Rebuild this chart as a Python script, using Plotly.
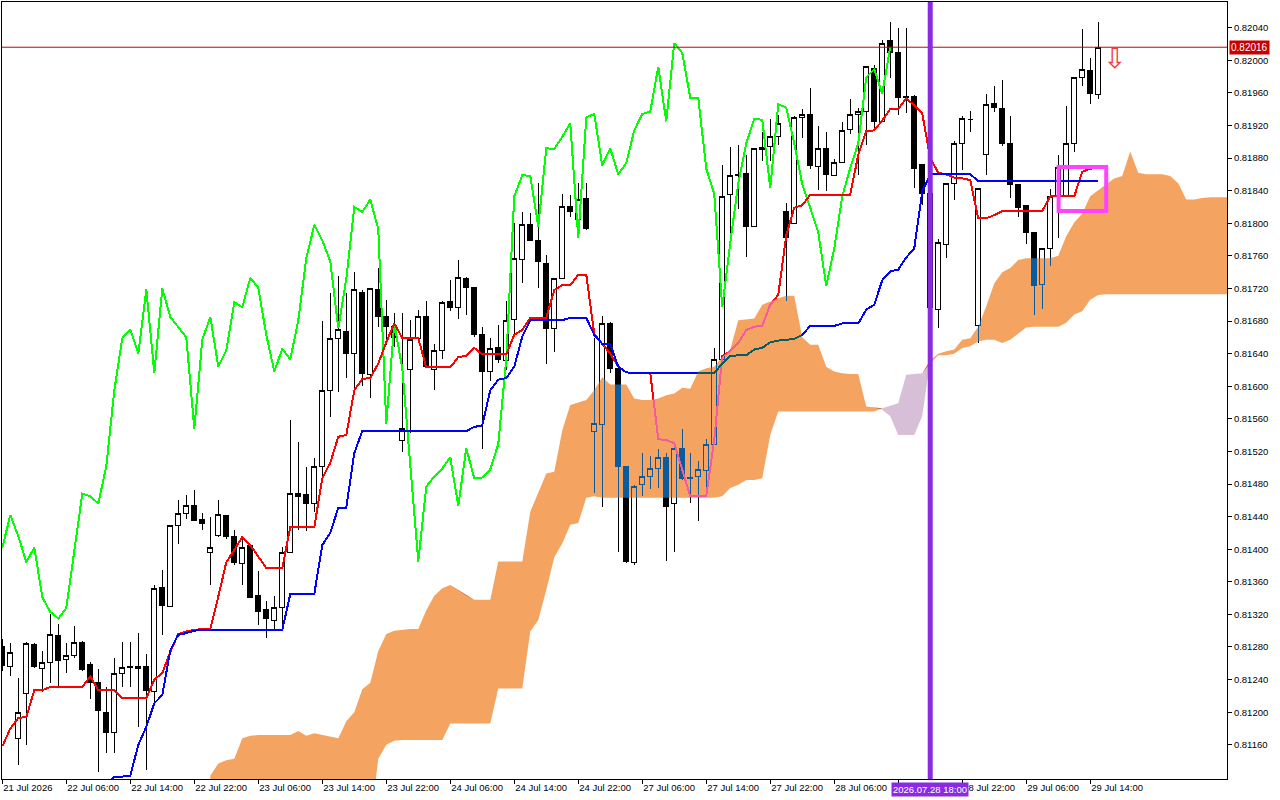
import plotly.graph_objects as go

# H1 bars, index 0 = 21 Jul 22:00 ... index 137 = 29 Jul 15:00
opens = [
    0.81281, 0.81256, 0.81168, 0.81223, 0.81283, 0.81253, 0.81261, 0.81294, 0.81265, 0.81270,
    0.81286, 0.81259, 0.81237, 0.81200, 0.81175, 0.81248, 0.81255, 0.81253, 0.81256, 0.81225,
    0.81353, 0.81330, 0.81429, 0.81444, 0.81454, 0.81437, 0.81396, 0.81417, 0.81441, 0.81416,
    0.81382, 0.81404, 0.81343, 0.81326, 0.81313, 0.81329, 0.81396, 0.81468, 0.81467, 0.81456,
    0.81501, 0.81595, 0.81659, 0.81667, 0.81640, 0.81715, 0.81615, 0.81719, 0.81685, 0.81673,
    0.81534, 0.81620, 0.81659, 0.81685, 0.81620, 0.81644, 0.81704, 0.81697, 0.81732, 0.81721,
    0.81664, 0.81618, 0.81647, 0.81631, 0.81682, 0.81755, 0.81798, 0.81779, 0.81751, 0.81671,
    0.81732, 0.81820, 0.81804, 0.81830, 0.81544, 0.81553, 0.81677, 0.81622, 0.81501, 0.81384,
    0.81479, 0.81489, 0.81499, 0.81513, 0.81456, 0.81524, 0.81487, 0.81489, 0.81497, 0.81529,
    0.81633, 0.81835, 0.81860, 0.81861, 0.81796, 0.81893, 0.81894, 0.81907, 0.81814, 0.81800,
    0.81930, 0.81934, 0.81870, 0.81892, 0.81859, 0.81875, 0.81915, 0.81934, 0.81937, 0.81990,
    0.81925, 0.82024, 0.82010, 0.81956, 0.81956, 0.81872, 0.81836, 0.81694, 0.81774, 0.81849,
    0.81898, 0.81927, 0.81675, 0.81884, 0.81947, 0.81941, 0.81898, 0.81848, 0.81822, 0.81789,
    0.81725, 0.81769, 0.81833, 0.81833, 0.81898, 0.81979, 0.81987, 0.81958,
]
highs = [
    0.81290, 0.81285, 0.81242, 0.81286, 0.81285, 0.81275, 0.81321, 0.81308, 0.81285, 0.81306,
    0.81287, 0.81262, 0.81253, 0.81231, 0.81266, 0.81286, 0.81286, 0.81297, 0.81271, 0.81356,
    0.81375, 0.81429, 0.81460, 0.81467, 0.81473, 0.81445, 0.81440, 0.81460, 0.81441, 0.81424,
    0.81415, 0.81405, 0.81373, 0.81336, 0.81342, 0.81403, 0.81559, 0.81531, 0.81501, 0.81512,
    0.81680, 0.81714, 0.81735, 0.81714, 0.81740, 0.81718, 0.81720, 0.81745, 0.81706, 0.81690,
    0.81690, 0.81681, 0.81693, 0.81704, 0.81652, 0.81705, 0.81730, 0.81755, 0.81734, 0.81722,
    0.81673, 0.81659, 0.81675, 0.81705, 0.81800, 0.81814, 0.81812, 0.81850, 0.81761, 0.81732,
    0.81836, 0.81835, 0.81849, 0.81849, 0.81659, 0.81686, 0.81679, 0.81622, 0.81501, 0.81479,
    0.81518, 0.81514, 0.81523, 0.81518, 0.81530, 0.81547, 0.81518, 0.81508, 0.81535, 0.81647,
    0.81871, 0.81893, 0.81896, 0.81884, 0.81892, 0.81912, 0.81928, 0.81933, 0.81825, 0.81932,
    0.81940, 0.81966, 0.81919, 0.81912, 0.81879, 0.81924, 0.81953, 0.81941, 0.81992, 0.81994,
    0.82025, 0.82047, 0.82039, 0.82040, 0.81957, 0.81872, 0.81840, 0.81781, 0.81849, 0.81901,
    0.81931, 0.81938, 0.81843, 0.81958, 0.81968, 0.81976, 0.81931, 0.81848, 0.81823, 0.81789,
    0.81770, 0.81842, 0.81884, 0.81944, 0.81979, 0.82038, 0.82003, 0.82047,
]
lows = [
    0.81250, 0.81244, 0.81135, 0.81160, 0.81254, 0.81225, 0.81236, 0.81231, 0.81248, 0.81267,
    0.81251, 0.81216, 0.81127, 0.81150, 0.81150, 0.81231, 0.81231, 0.81182, 0.81129, 0.81213,
    0.81295, 0.81330, 0.81406, 0.81437, 0.81434, 0.81423, 0.81356, 0.81415, 0.81412, 0.81381,
    0.81356, 0.81340, 0.81307, 0.81291, 0.81301, 0.81301, 0.81395, 0.81424, 0.81422, 0.81446,
    0.81487, 0.81562, 0.81593, 0.81610, 0.81595, 0.81600, 0.81586, 0.81673, 0.81650, 0.81648,
    0.81519, 0.81543, 0.81659, 0.81624, 0.81595, 0.81633, 0.81692, 0.81682, 0.81687, 0.81661,
    0.81523, 0.81607, 0.81628, 0.81620, 0.81663, 0.81727, 0.81778, 0.81720, 0.81627, 0.81642,
    0.81732, 0.81808, 0.81804, 0.81792, 0.81469, 0.81452, 0.81616, 0.81397, 0.81383, 0.81381,
    0.81465, 0.81474, 0.81475, 0.81385, 0.81397, 0.81485, 0.81457, 0.81434, 0.81473, 0.81528,
    0.81632, 0.81786, 0.81818, 0.81759, 0.81796, 0.81876, 0.81876, 0.81896, 0.81704, 0.81800,
    0.81904, 0.81867, 0.81841, 0.81840, 0.81858, 0.81875, 0.81909, 0.81859, 0.81896, 0.81917,
    0.81925, 0.81978, 0.81933, 0.81935, 0.81843, 0.81822, 0.81690, 0.81671, 0.81757, 0.81829,
    0.81865, 0.81912, 0.81653, 0.81859, 0.81937, 0.81895, 0.81831, 0.81808, 0.81775, 0.81688,
    0.81695, 0.81747, 0.81782, 0.81832, 0.81887, 0.81968, 0.81946, 0.81953,
]
closes = [
    0.81257, 0.81273, 0.81200, 0.81284, 0.81256, 0.81261, 0.81295, 0.81263, 0.81270, 0.81286,
    0.81252, 0.81237, 0.81202, 0.81175, 0.81248, 0.81255, 0.81256, 0.81256, 0.81227, 0.81352,
    0.81331, 0.81429, 0.81444, 0.81454, 0.81435, 0.81432, 0.81402, 0.81442, 0.81416, 0.81384,
    0.81402, 0.81341, 0.81323, 0.81315, 0.81328, 0.81396, 0.81468, 0.81465, 0.81456, 0.81502,
    0.81595, 0.81659, 0.81670, 0.81640, 0.81719, 0.81616, 0.81720, 0.81685, 0.81673, 0.81660,
    0.81548, 0.81657, 0.81685, 0.81624, 0.81644, 0.81703, 0.81697, 0.81733, 0.81721, 0.81663,
    0.81618, 0.81646, 0.81633, 0.81681, 0.81757, 0.81798, 0.81779, 0.81753, 0.81671, 0.81732,
    0.81820, 0.81814, 0.81829, 0.81793, 0.81554, 0.81677, 0.81622, 0.81501, 0.81385, 0.81477,
    0.81489, 0.81499, 0.81513, 0.81453, 0.81524, 0.81487, 0.81488, 0.81498, 0.81529, 0.81633,
    0.81833, 0.81859, 0.81858, 0.81796, 0.81892, 0.81891, 0.81906, 0.81923, 0.81782, 0.81930,
    0.81934, 0.81871, 0.81892, 0.81860, 0.81874, 0.81914, 0.81934, 0.81937, 0.81992, 0.81925,
    0.82021, 0.82009, 0.81954, 0.81954, 0.81867, 0.81836, 0.81697, 0.81776, 0.81849, 0.81898,
    0.81928, 0.81927, 0.81843, 0.81946, 0.81942, 0.81898, 0.81848, 0.81819, 0.81789, 0.81723,
    0.81769, 0.81833, 0.81868, 0.81898, 0.81979, 0.81989, 0.81959, 0.82016,
]

# Ichimoku lines
tenkan = [
    0.81158, 0.81180, 0.81193, 0.81194, 0.81227, 0.81227, 0.81231, 0.81231, 0.81231, 0.81231,
    0.81231, 0.81244, 0.81227, 0.81227, 0.81227, 0.81217, 0.81217, 0.81217, 0.81217, 0.81240,
    0.81248, 0.81274, 0.81296, 0.81299, 0.81301, 0.81302, 0.81302, 0.81342, 0.81384, 0.81399,
    0.81415, 0.81405, 0.81391, 0.81377, 0.81377, 0.81377, 0.81427, 0.81427, 0.81427, 0.81427,
    0.81487, 0.81506, 0.81538, 0.81540, 0.81595, 0.81609, 0.81610, 0.81628, 0.81654, 0.81677,
    0.81659, 0.81659, 0.81659, 0.81623, 0.81623, 0.81623, 0.81623, 0.81636, 0.81637, 0.81647,
    0.81639, 0.81639, 0.81639, 0.81639, 0.81663, 0.81669, 0.81684, 0.81684, 0.81684, 0.81718,
    0.81724, 0.81724, 0.81737, 0.81737, 0.81664, 0.81652, 0.81640, 0.81624, 0.81617, 0.81616,
    0.81616, 0.81616, 0.81535, 0.81534, 0.81530, 0.81497, 0.81465, 0.81465, 0.81465, 0.81534,
    0.81637, 0.81643, 0.81653, 0.81669, 0.81673, 0.81674, 0.81700, 0.81712, 0.81785, 0.81819,
    0.81822, 0.81835, 0.81835, 0.81835, 0.81835, 0.81835, 0.81835, 0.81884, 0.81913, 0.81914,
    0.81926, 0.81940, 0.81940, 0.81953, 0.81945, 0.81935, 0.81880, 0.81862, 0.81860, 0.81856,
    0.81855, 0.81853, 0.81806, 0.81806, 0.81810, 0.81815, 0.81815, 0.81815, 0.81815, 0.81815,
    0.81815, 0.81833, 0.81833, 0.81833, 0.81833, 0.81863, 0.81867, 0.81868,
]
kijun = [
    None, None, None, None, None, None, None, None, None, None,
    None, None, None, 0.81112, 0.81121, 0.81121, 0.81122, 0.81160, 0.81182, 0.81211,
    0.81221, 0.81276, 0.81295, 0.81297, 0.81300, 0.81301, 0.81301, 0.81301, 0.81301, 0.81301,
    0.81301, 0.81301, 0.81301, 0.81301, 0.81301, 0.81301, 0.81345, 0.81345, 0.81345, 0.81345,
    0.81405, 0.81420, 0.81451, 0.81451, 0.81518, 0.81545, 0.81545, 0.81545, 0.81545, 0.81545,
    0.81545, 0.81545, 0.81545, 0.81545, 0.81545, 0.81545, 0.81545, 0.81545, 0.81545, 0.81550,
    0.81552, 0.81595, 0.81608, 0.81610, 0.81624, 0.81661, 0.81681, 0.81681, 0.81681, 0.81681,
    0.81681, 0.81684, 0.81684, 0.81684, 0.81663, 0.81652, 0.81652, 0.81624, 0.81617, 0.81616,
    0.81616, 0.81616, 0.81616, 0.81616, 0.81616, 0.81616, 0.81616, 0.81616, 0.81616, 0.81616,
    0.81628, 0.81637, 0.81638, 0.81638, 0.81645, 0.81647, 0.81654, 0.81656, 0.81657, 0.81658,
    0.81663, 0.81674, 0.81674, 0.81674, 0.81674, 0.81677, 0.81677, 0.81677, 0.81694, 0.81700,
    0.81730, 0.81741, 0.81743, 0.81758, 0.81769, 0.81839, 0.81860, 0.81860, 0.81860, 0.81860,
    0.81860, 0.81860, 0.81852, 0.81852, 0.81852, 0.81852, 0.81852, 0.81852, 0.81852, 0.81852,
    0.81852, 0.81852, 0.81852, 0.81852, 0.81852, 0.81852, 0.81852, 0.81852,
]

# Senkou spans, first value sits on bar 26 (shifted 26 bars forward)
span_shift = 26
span_a = [
    0.81122, 0.81137, 0.81141, 0.81143, 0.81168, 0.81171, 0.81172, 0.81172, 0.81172, 0.81172,
    0.81172, 0.81177, 0.81171, 0.81174, 0.81172, 0.81170, 0.81168, 0.81189, 0.81200, 0.81228,
    0.81236, 0.81275, 0.81296, 0.81300, 0.81301, 0.81302, 0.81302, 0.81325, 0.81343, 0.81352,
    0.81356, 0.81350, 0.81343, 0.81338, 0.81338, 0.81338, 0.81385, 0.81385, 0.81385, 0.81385,
    0.81446, 0.81470, 0.81493, 0.81495, 0.81546, 0.81577, 0.81580, 0.81583, 0.81595, 0.81611,
    0.81602, 0.81602, 0.81602, 0.81585, 0.81583, 0.81583, 0.81585, 0.81589, 0.81591, 0.81598,
    0.81597, 0.81618, 0.81622, 0.81624, 0.81636, 0.81645, 0.81681, 0.81682, 0.81683, 0.81700,
    0.81704, 0.81708, 0.81711, 0.81711, 0.81660, 0.81651, 0.81651, 0.81624, 0.81618, 0.81616,
    0.81615, 0.81615, 0.81575, 0.81574, 0.81571, 0.81563, 0.81540, 0.81540, 0.81540, 0.81563,
    0.81632, 0.81640, 0.81643, 0.81645, 0.81657, 0.81659, 0.81673, 0.81698, 0.81726, 0.81740,
    0.81745, 0.81755, 0.81757, 0.81757, 0.81757, 0.81757, 0.81760, 0.81784, 0.81801, 0.81812,
    0.81833, 0.81840, 0.81848, 0.81855, 0.81858, 0.81888, 0.81862, 0.81860, 0.81860, 0.81860,
    0.81858, 0.81849, 0.81829, 0.81829, 0.81831, 0.81832, 0.81832, 0.81832, 0.81832,
]
span_b = [
    0.81050, 0.81050, 0.81050, 0.81050, 0.81050, 0.81050, 0.81050, 0.81050, 0.81050, 0.81050,
    0.81050, 0.81050, 0.81050, 0.81050, 0.81050, 0.81050, 0.81050, 0.81050, 0.81050, 0.81055,
    0.81060, 0.81143, 0.81160, 0.81165, 0.81166, 0.81166, 0.81166, 0.81166, 0.81166, 0.81166,
    0.81186, 0.81186, 0.81186, 0.81186, 0.81186, 0.81186, 0.81229, 0.81229, 0.81229, 0.81229,
    0.81299, 0.81313, 0.81350, 0.81390, 0.81407, 0.81430, 0.81432, 0.81463, 0.81465, 0.81463,
    0.81463, 0.81463, 0.81463, 0.81463, 0.81463, 0.81463, 0.81463, 0.81463, 0.81463, 0.81463,
    0.81463, 0.81463, 0.81463, 0.81463, 0.81465, 0.81475, 0.81479, 0.81485, 0.81485, 0.81487,
    0.81540, 0.81569, 0.81569, 0.81569, 0.81569, 0.81569, 0.81569, 0.81569, 0.81569, 0.81569,
    0.81569, 0.81569, 0.81569, 0.81569, 0.81573, 0.81576, 0.81579, 0.81614, 0.81615, 0.81616,
    0.81628, 0.81638, 0.81638, 0.81640, 0.81647, 0.81649, 0.81655, 0.81657, 0.81657, 0.81653,
    0.81657, 0.81665, 0.81672, 0.81673, 0.81673, 0.81673, 0.81673, 0.81678, 0.81688, 0.81692,
    0.81706, 0.81712, 0.81713, 0.81713, 0.81713, 0.81713, 0.81713, 0.81713, 0.81713, 0.81713,
    0.81713, 0.81713, 0.81713, 0.81713, 0.81713, 0.81713, 0.81713, 0.81713, 0.81713,
]

x_tick_bars = [0, 8, 16, 24, 32, 40, 48, 56, 64, 72, 80, 88, 96, 104, 112, 120, 128, 136]
# the 28 Jul 14:00 label sits under the vertical-line time tag, so it stays blank
x_tick_labels = [
    "21 Jul 2026", "22 Jul 06:00", "22 Jul 14:00", "22 Jul 22:00", "23 Jul 06:00",
    "23 Jul 14:00", "23 Jul 22:00", "24 Jul 06:00", "24 Jul 14:00", "24 Jul 22:00",
    "27 Jul 06:00", "27 Jul 14:00", "27 Jul 22:00", "28 Jul 06:00", "",
    "28 Jul 22:00", "29 Jul 06:00", "29 Jul 14:00",
]
y_ticks = [
    0.81160, 0.81200, 0.81240, 0.81280, 0.81320, 0.81360, 0.81400, 0.81440, 0.81480,
    0.81520, 0.81560, 0.81600, 0.81640, 0.81680, 0.81720, 0.81760, 0.81800, 0.81840,
    0.81880, 0.81920, 0.81960, 0.82000, 0.82040,
]

last_price = 0.82016
vline_bar = 116
vline_label = "2026.07.28 18:00"
box_bars = (132.05, 138.0)
box_prices = (0.81815, 0.81869)
arrow_bar = 139.0
arrow_price = 0.82002

FONT = "Liberation Sans, Arial, sans-serif"
bars = list(range(len(closes)))
cloud_x = [span_shift + k for k in range(len(span_a))]
top = [max(a, b) for a, b in zip(span_a, span_b)]

fig = go.Figure()

# white backdrop inside the plot group, so the cloud can blend against it
fig.add_trace(go.Bar(x=[76.5], y=[0.0100], base=[0.8110], width=[170],
                     marker=dict(color="white", line=dict(width=0)),
                     hoverinfo="skip", showlegend=False))

fig.add_trace(go.Candlestick(
    x=bars, open=opens, high=highs, low=lows, close=closes,
    increasing=dict(line=dict(color="black", width=1), fillcolor="white"),
    decreasing=dict(line=dict(color="black", width=1), fillcolor="black"),
    whiskerwidth=0, hoverinfo="skip", showlegend=False))

fig.add_trace(go.Scatter(x=[b - span_shift for b in bars], y=closes, mode="lines",
                         line=dict(color="#00FF00", width=2), hoverinfo="skip",
                         showlegend=False))
fig.add_trace(go.Scatter(x=bars, y=tenkan, mode="lines",
                         line=dict(color="#FF0000", width=2), hoverinfo="skip",
                         showlegend=False))
fig.add_trace(go.Scatter(x=bars, y=kijun, mode="lines",
                         line=dict(color="#0000FF", width=2), hoverinfo="skip",
                         showlegend=False))

# kumo: colours are the "difference" complements of sandybrown / thistle
fig.add_trace(go.Scatter(x=cloud_x + cloud_x[::-1], y=top + span_b[::-1],
                         fill="toself", fillcolor="#0B5B9F", mode="lines",
                         line=dict(width=0), hoverinfo="skip", showlegend=False))
fig.add_trace(go.Scatter(x=cloud_x + cloud_x[::-1], y=top + span_a[::-1],
                         fill="toself", fillcolor="#274027", mode="lines",
                         line=dict(width=0), hoverinfo="skip", showlegend=False))

fig.add_shape(type="line", xref="paper", x0=0, x1=1, y0=last_price, y1=last_price,
              line=dict(color="#C80000", width=1), layer="above")
fig.add_shape(type="line", x0=vline_bar, x1=vline_bar, yref="paper", y0=0, y1=1,
              line=dict(color="#8A2BE2", width=5), layer="above")
fig.add_shape(type="rect", x0=box_bars[0], x1=box_bars[1],
              y0=box_prices[0], y1=box_prices[1],
              line=dict(color="#FF44FF", width=4), layer="above")

fig.add_annotation(x=arrow_bar, y=arrow_price, text="⇩", showarrow=False,
                   font=dict(family="DejaVu Sans", size=28, color="#F03C3C"))
fig.add_annotation(xref="paper", x=1, xanchor="left", xshift=2, y=last_price,
                   text=f"{last_price:.5f}", showarrow=False, bgcolor="#C80000",
                   borderpad=1, font=dict(family=FONT, size=10, color="white"))
fig.add_annotation(x=vline_bar, yref="paper", y=0, yanchor="top", yshift=-3,
                   text=vline_label, showarrow=False, bgcolor="#8A2BE2",
                   borderpad=1, font=dict(family=FONT, size=9.5, color="white"))

fig.update_layout(
    width=1280, height=800,
    margin=dict(l=2, r=53, t=2, b=21),
    paper_bgcolor="white", plot_bgcolor="white",
    showlegend=False, boxgap=0.2, boxgroupgap=0.2,
    font=dict(family=FONT, size=9.5, color="black"),
    xaxis=dict(range=[-0.04, 153.1], showgrid=False, zeroline=False,
               showline=True, mirror=True, linecolor="black", linewidth=1,
               ticks="outside", ticklen=4, tickcolor="black",
               tickvals=x_tick_bars, ticktext=x_tick_labels,
               ticklabelposition="outside right", rangeslider=dict(visible=False)),
    yaxis=dict(range=[0.81118, 0.820715], side="right", showgrid=False,
               zeroline=False, showline=True, mirror=True, linecolor="black",
               linewidth=1, ticks="outside", ticklen=4, tickcolor="black",
               tickvals=y_ticks, tickformat=".5f"),
)

BLEND_JS = """
document.body.style.margin = '0';
var gd = document.getElementById('{plot_id}');
function blendCloud() {
  gd.querySelectorAll('.scatterlayer .js-fill').forEach(function (p) {
    p.style.mixBlendMode = 'difference';
  });
  gd.querySelectorAll('.scatterlayer .js-line, .boxlayer path').forEach(function (p) {
    p.style.shapeRendering = 'crispEdges';
  });
}
blendCloud();
gd.on('plotly_afterplot', blendCloud);
"""

fig.write_html("out.html", post_script=BLEND_JS, config=dict(displayModeBar=False))
